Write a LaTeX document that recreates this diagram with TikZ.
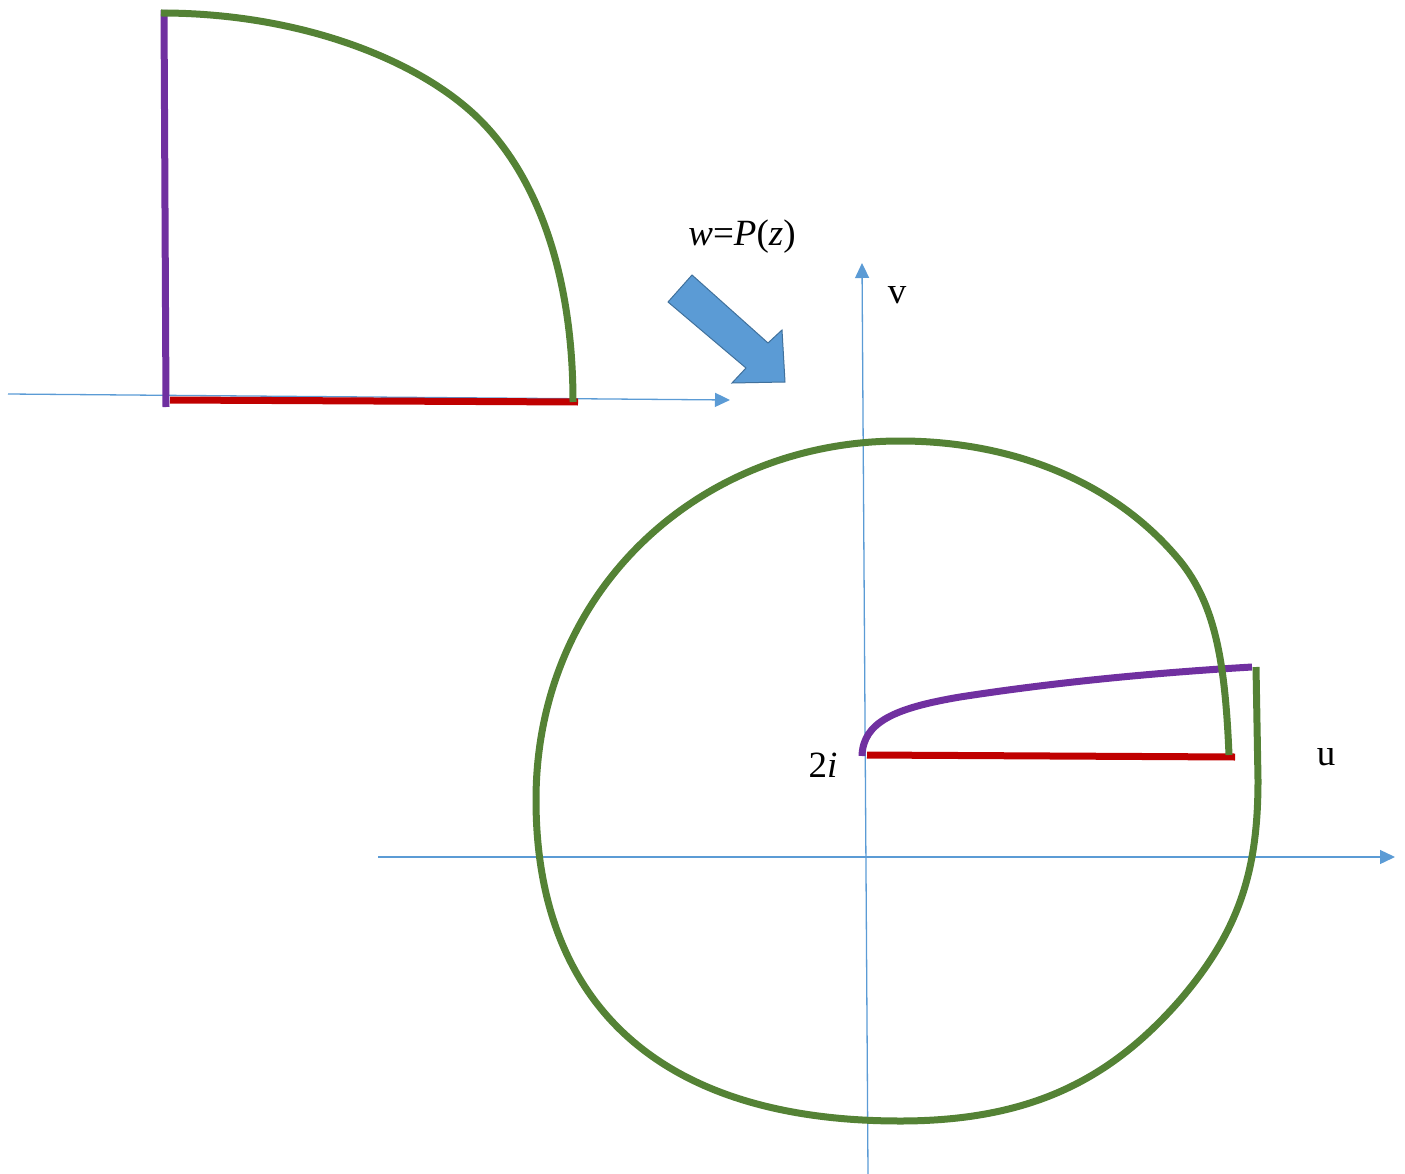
\documentclass[tikz,border=0pt]{standalone}
\usepackage{fontspec}
\setmainfont{Liberation Serif}
\usetikzlibrary{arrows.meta}
\definecolor{axisblue}{HTML}{5B9BD5}
\definecolor{arrowedge}{HTML}{41719C}
\definecolor{boundary}{HTML}{548235}
\definecolor{imagaxis}{HTML}{7030A0}
\definecolor{realaxis}{HTML}{C00000}

\begin{document}
\begin{tikzpicture}[x=1pt, y=-1pt,
  axis/.style={axisblue,line width=1.3pt,-{Triangle[length=15pt,width=14pt]}},
  curve/.style={line width=7pt},
  lbl/.style={font=\fontsize{37}{40}\selectfont,inner sep=0pt},
]
  \useasboundingbox (0,0) rectangle (1405,1174);

  % z-plane
  \coordinate (zx0) at (8,394);
  \coordinate (zx1) at (730,400);
  \draw[axis] (zx0) -- (zx1);
  \draw[curve,imagaxis] (164,10) -- (166,407);
  \draw[curve,realaxis] (170,400) -- (578,402);
  \draw[curve,boundary] (161,13) .. controls (300,13) and (420,60) .. (480,120)
    .. controls (540,180) and (573,280) .. (573,402);

  % the map
  \node[lbl] (map) at (742,237) {\itshape w\upshape=\itshape P\upshape(\itshape z\upshape)};
  \filldraw[fill=axisblue,draw=arrowedge,line width=1pt]
    (668,302) -- (692,275) -- (768,343) -- (782,330) -- (785,382) -- (732,383) -- (746,368) -- cycle;

  % w-plane
  \coordinate (ux0) at (378,857);
  \coordinate (ux1) at (1395,857);
  \coordinate (vy0) at (868,1174);
  \coordinate (vy1) at (862,263);
  \draw[axis] (ux0) -- (ux1);
  \draw[axis] (vy0) -- (vy1);
  \node[lbl] (v) at (897,295) {v};
  \node[lbl] (u) at (1326,757) {u};
  \node[lbl] (two) at (823,765) {2\itshape i};

  \draw[curve,realaxis] (867,755) -- (1235,757);
  \draw[curve,imagaxis] (862,756) .. controls (863,722) and (895,708) .. (960,697)
    .. controls (1050,683) and (1150,673) .. (1252,667);
  \draw[curve,boundary] (1229,755) .. controls (1225,660) and (1215,600) .. (1175,555)
    .. controls (1110,480) and (1010,441) .. (900,441)
    .. controls (700,441) and (536,590) .. (536,800)
    .. controls (536,995) and (650,1121) .. (900,1121)
    .. controls (1030,1121) and (1110,1080) .. (1180,1000)
    .. controls (1240,930) and (1258,870) .. (1258,780)
    -- (1256,667);
\end{tikzpicture}
\end{document}
